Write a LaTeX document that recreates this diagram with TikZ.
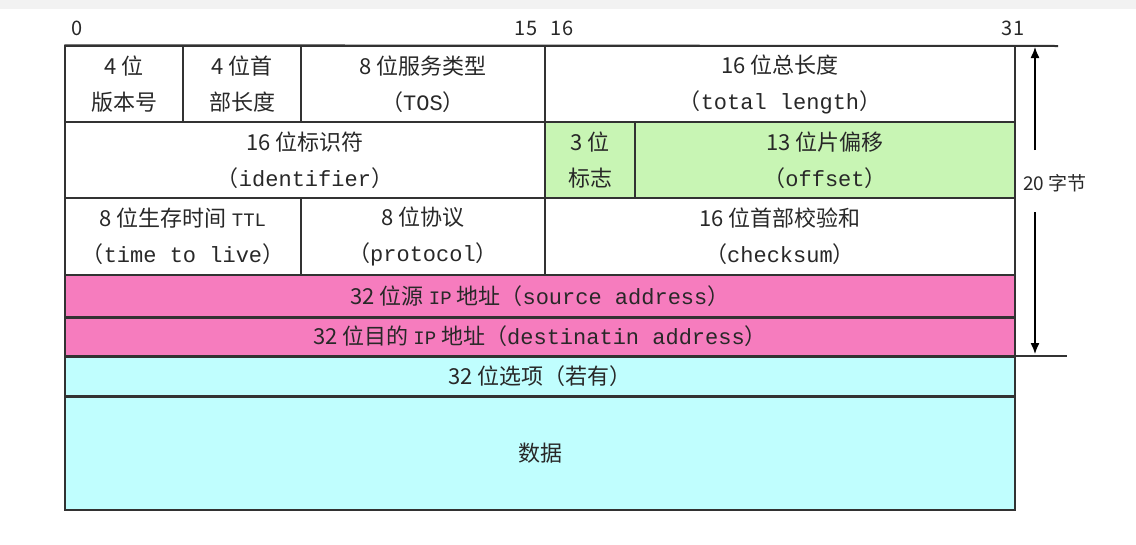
\documentclass[tikz,border=0pt]{standalone}
\usepackage{fontspec}
\setmainfont{Noto Sans CJK SC}
\setmonofont{Liberation Mono}
\usetikzlibrary{arrows.meta}
\definecolor{hpink}{RGB}{246,124,190}
\definecolor{hgreen}{RGB}{200,245,180}
\definecolor{hcyan}{RGB}{192,254,254}
\definecolor{hline}{RGB}{50,50,50}
\definecolor{htext}{RGB}{40,40,40}
\newcommand\cellbox[6][white]{%
  \node[cellst,fill=#1,minimum width={#5pt-#3pt},minimum height={#6pt-#4pt}]
    (#2) at ({(#3+#5)/2},{(#4+#6)/2}) {\cellcontent};}
\newcommand\sm[1]{\texttt{\fontsize{19}{36}\selectfont #1}}
\tikzset{
  cellst/.style={draw=hline,line width=1.4pt,inner sep=0pt,align=center,
    text=htext,font=\fontsize{22}{36}\selectfont},
  bitlab/.style={text=htext,font=\fontsize{20}{24}\selectfont,inner sep=0pt},
  sidearrow/.style={draw=black,line width=1.3pt,-{Latex[length=11pt,width=9pt]}}
}
\begin{document}
\begin{tikzpicture}[x=1pt,y=-1pt]
\useasboundingbox (0,0) rectangle (1136,544);
\fill[white] (0,0) rectangle (1136,544);
\fill[black!5] (0,0) rectangle (1136,9);
% row 1
\def\cellcontent{4 位\\版本号}\cellbox{ver}{65}{46}{183}{122}
\def\cellcontent{4 位首\\部长度}\cellbox{hlen}{183}{46}{301}{122}
\def\cellcontent{8 位服务类型\\（\texttt{TOS}）}\cellbox{tos}{301}{46}{545}{122}
\def\cellcontent{16 位总长度\\（\texttt{total length}）}\cellbox{tlen}{545}{46}{1015}{122}
% row 2
\def\cellcontent{16 位标识符\\（\texttt{identifier}）}\cellbox{ident}{65}{122}{545}{198}
\def\cellcontent{3 位\\标志}\cellbox[hgreen]{flag}{545}{122}{635}{198}
\def\cellcontent{13 位片偏移\\（\texttt{offset}）}\cellbox[hgreen]{offs}{635}{122}{1015}{198}
% row 3
\def\cellcontent{8 位生存时间 \sm{TTL}\\（\texttt{time to live}）}\cellbox{ttl}{65}{198}{301}{275}
\def\cellcontent{8 位协议\\（\texttt{protocol}）}\cellbox{proto}{301}{198}{545}{275}
\def\cellcontent{16 位首部校验和\\（\texttt{checksum}）}\cellbox{csum}{545}{198}{1015}{275}
% rows 4-7
\def\cellcontent{32 位源 \sm{IP} 地址（\texttt{source address}）}\cellbox[hpink]{src}{65}{275}{1015}{317}
\def\cellcontent{32 位目的 \sm{IP} 地址（\texttt{destinatin address}）}\cellbox[hpink]{dst}{65}{317}{1015}{356}
\def\cellcontent{32 位选项（若有）}\cellbox[hcyan]{opt}{65}{356}{1015}{396}
\def\cellcontent{数据}\cellbox[hcyan]{data}{65}{396}{1015}{510}
% thicker separators
\draw[hline,line width=2.4pt] (src.south west) -- (src.south east);
\draw[hline,line width=2.4pt] (dst.south west) -- (dst.south east);
\draw[hline,line width=2.4pt] (opt.south west) -- (opt.south east);
% bit labels
\node[bitlab] (b0) at (77,28) {0};
\node[bitlab] (b15) at (526,28) {15};
\node[bitlab] (b16) at (562,28) {16};
\node[bitlab] (b31) at (1013,28) {31};
% top and bottom reference lines
\coordinate (topend) at (1058,46);
\coordinate (botstart) at (1015,356);
\coordinate (botend) at (1067,356);
\draw[hline,line width=2pt] (ver.north west) -- (topend);
\draw[hline,line width=1.6pt] (botstart) -- (botend);
% side arrow
\node[bitlab,font=\fontsize{19}{24}\selectfont] (lab) at (1055,183) {20 字节};
\coordinate (aupstart) at (1035,150);
\coordinate (atop) at (1035,47);
\coordinate (adnstart) at (1035,212);
\coordinate (abot) at (1035,354);
\draw[sidearrow] (aupstart) -- (atop);
\draw[sidearrow] (adnstart) -- (abot);
\end{tikzpicture}
\end{document}
